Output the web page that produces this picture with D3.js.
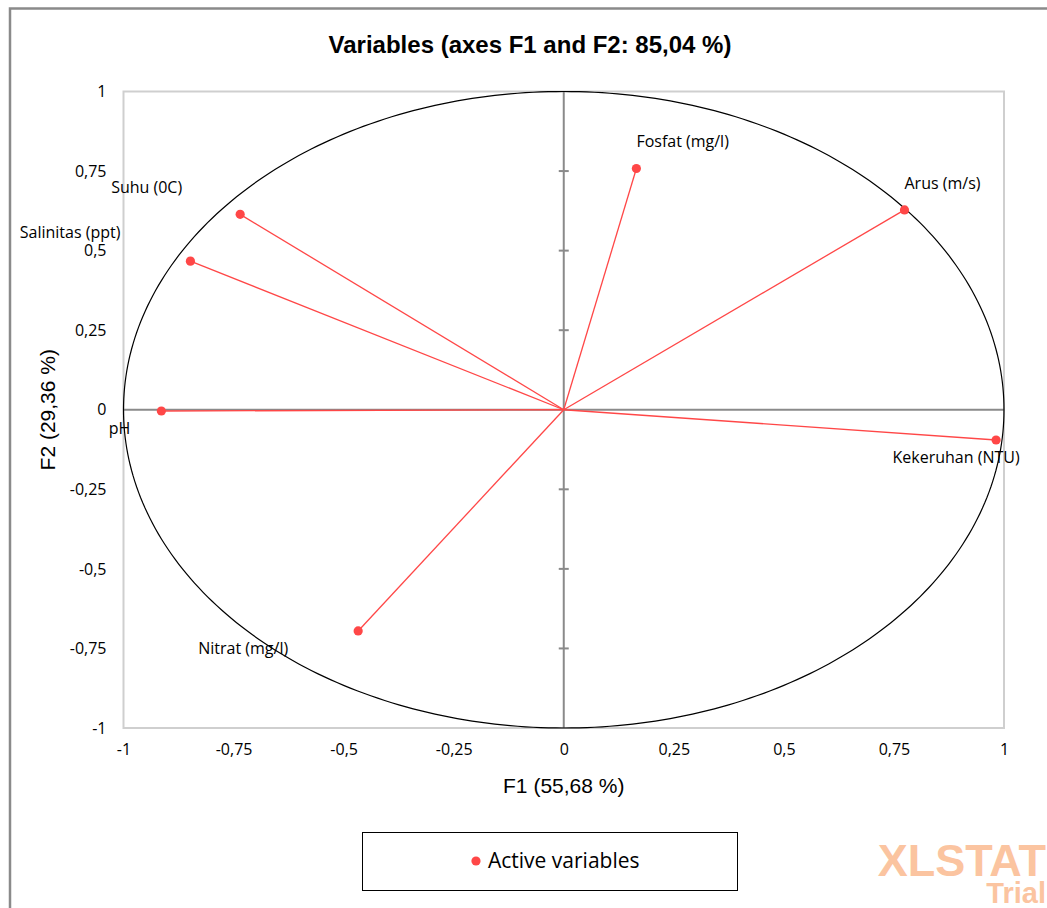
<!DOCTYPE html>
<html><head><meta charset="utf-8">
<script src="https://cdn.jsdelivr.net/npm/d3@7"></script>
<style>
body{margin:0;background:#fff;}
</style></head>
<body><svg id="c" width="1047" height="908"></svg>
<script>
const variables = ["Fosfat (mg/l)","Arus (m/s)","Suhu (0C)","Salinitas (ppt)","pH","Kekeruhan (NTU)","Nitrat (mg/l)"];
const f1Values = [0.165, 0.774, -0.735, -0.848, -0.914, 0.982, -0.467];
const f2Values = [0.758, 0.628, 0.614, 0.467, -0.004, -0.095, -0.695];
const tickValues = [-1,-0.75,-0.5,-0.25,0,0.25,0.5,0.75,1];
const tickLabels = ["-1","-0,75","-0,5","-0,25","0","0,25","0,5","0,75","1"];
const title = "Variables (axes F1 and F2: 85,04 %)";
const xTitle = "F1 (55,68 %)";
const yTitle = "F2 (29,36 %)";
const legendLabel = "Active variables";

// label layout (anchor, dx, dy) relative to each point
const labelLayout = [
  ["start",0,-22],["start",0,-21],["end",-58,-21],["end",-70,-23],
  ["end",-31,23],["middle",-40,23],["end",-70,23]
];

const ARIAL = "'Liberation Sans',Arial,sans-serif";
const OPEN = "'Open Sans',sans-serif";
const svg = d3.select("#c");
const red = "#ff4747";
const x = d3.scaleLinear().domain([-1,1]).range([123.5,1004]);
const y = d3.scaleLinear().domain([-1,1]).range([728,91.5]);
const fmt = v => tickLabels[tickValues.indexOf(v)];

// outer frame
svg.append("path").attr("d","M10,908 V8.5 H1047").attr("fill","none").attr("stroke","#8a8a8a").attr("stroke-width",2.5);

// plot border
svg.append("rect").attr("x",x(-1)).attr("y",y(1)).attr("width",x(1)-x(-1)).attr("height",y(-1)-y(1))
  .attr("fill","none").attr("stroke","#cfcfcf").attr("stroke-width",2);

// tick labels via axes (no lines)
const xAx = svg.append("g").attr("transform",`translate(0,${y(-1)})`)
  .call(d3.axisBottom(x).tickValues(tickValues).tickFormat(fmt).tickSize(0).tickPadding(16));
const yAx = svg.append("g").attr("transform",`translate(${x(-1)},0)`)
  .call(d3.axisLeft(y).tickValues(tickValues).tickFormat(fmt).tickSize(0).tickPadding(17));
[xAx,yAx].forEach(g=>{g.select(".domain").remove(); g.selectAll("text").attr("fill","#000").style("font-size","16px").style("font-family",OPEN);});

// center axes
svg.append("line").attr("x1",x(-1)).attr("x2",x(1)).attr("y1",y(0)).attr("y2",y(0)).attr("stroke","#8a8a8a").attr("stroke-width",2);
svg.append("line").attr("x1",x(0)).attr("x2",x(0)).attr("y1",y(1)).attr("y2",y(-1)).attr("stroke","#8a8a8a").attr("stroke-width",2);
const cg = svg.append("g");
tickValues.filter(v=>v!==0 && Math.abs(v)!==1).forEach(v=>{
  cg.append("line").attr("x1",x(0)-5).attr("x2",x(0)+5).attr("y1",y(v)).attr("y2",y(v)).attr("stroke","#8a8a8a").attr("stroke-width",2);
});

// circle
const circ = d3.range(0,361).map(a=>[Math.cos(a*Math.PI/180),Math.sin(a*Math.PI/180)]);
svg.append("path").attr("d",d3.line().x(d=>x(d[0])).y(d=>y(d[1]))(circ)).attr("fill","none").attr("stroke","#000").attr("stroke-width",1.2);

// vectors
const data = variables.map((n,i)=>({name:n,f1:f1Values[i],f2:f2Values[i],lay:labelLayout[i]}));
svg.append("g").selectAll("line").data(data).join("line")
  .attr("x1",x(0)).attr("y1",y(0)).attr("x2",d=>x(d.f1)).attr("y2",d=>y(d.f2))
  .attr("stroke",red).attr("stroke-width",1.3);
svg.append("g").selectAll("circle").data(data).join("circle")
  .attr("cx",d=>x(d.f1)).attr("cy",d=>y(d.f2)).attr("r",4.6).attr("fill",red);
svg.append("g").selectAll("text").data(data).join("text")
  .attr("x",d=>x(d.f1)+d.lay[1]).attr("y",d=>y(d.f2)+d.lay[2]).attr("text-anchor",d=>d.lay[0])
  .style("font-family",OPEN).style("font-size","16px").attr("fill","#000").text(d=>d.name);

// titles
svg.append("text").attr("x",530).attr("y",53).attr("text-anchor","middle").style("font-family",ARIAL).style("font-size","24px").attr("font-weight","bold").text(title);
svg.append("text").attr("x",x(0)).attr("y",793).attr("text-anchor","middle").style("font-family",ARIAL).style("font-size","21px").text(xTitle);
svg.append("text").attr("transform",`translate(55,${y(0)}) rotate(-90)`).attr("text-anchor","middle").style("font-family",ARIAL).style("font-size","21px").text(yTitle);

// legend
svg.append("rect").attr("x",362.5).attr("y",832.5).attr("width",375).attr("height",58).attr("fill","#fff").attr("stroke","#000").attr("stroke-width",1);
svg.append("circle").attr("cx",476).attr("cy",861).attr("r",4.6).attr("fill",red);
svg.append("text").attr("x",488).attr("y",868).style("font-family",OPEN).style("font-size","21px").text(legendLabel);

// watermark
svg.append("text").attr("x",1046).attr("y",876).attr("text-anchor","end").style("font-family",ARIAL).style("font-size","45px").attr("font-weight","bold").attr("fill","#fbc4a0").text("XLSTAT");
svg.append("text").attr("x",1046).attr("y",903).attr("text-anchor","end").style("font-family",ARIAL).style("font-size","29px").attr("font-weight","bold").attr("fill","#fbc4a0").text("Trial");
</script></body></html>
